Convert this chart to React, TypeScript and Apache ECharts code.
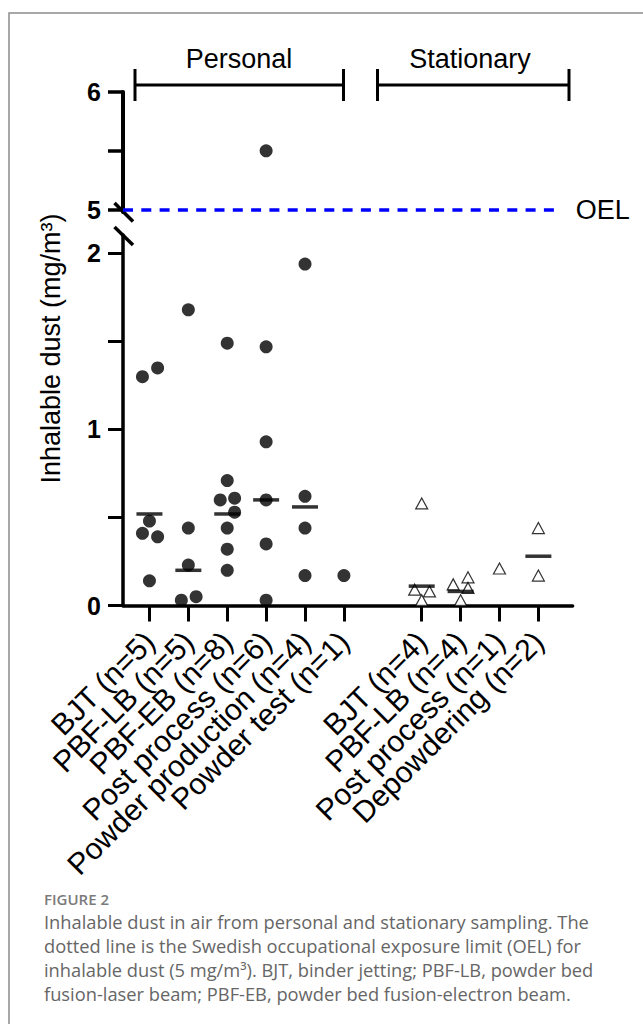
import React, { useEffect, useRef } from "react";
import * as echarts from "echarts";

// ---------- data ----------
const personalCategories = [
  "BJT (n=5)",
  "PBF-LB (n=5)",
  "PBF-EB (n=8)",
  "Post process (n=6)",
  "Powder production (n=4)",
  "Powder test (n=1)",
];
const stationaryCategories = [
  "BJT (n=4)",
  "PBF-LB (n=4)",
  "Post process (n=1)",
  "Depowdering (n=2)",
];
const personalPositions = [1, 2, 3, 4, 5, 6];
const stationaryPositions = [8, 9, 10, 11];

const personalValues = [
  [1.3, 1.35, 0.48, 0.41, 0.39, 0.14],
  [1.68, 0.44, 0.23, 0.03, 0.05],
  [1.49, 0.71, 0.6, 0.61, 0.53, 0.44, 0.32, 0.2],
  [5.5, 1.47, 0.93, 0.6, 0.35, 0.03],
  [1.94, 0.62, 0.44, 0.17],
  [0.17],
];
const personalJitter = [
  [-0.18, 0.21, 0, -0.18, 0.21, 0],
  [0, 0, 0, -0.18, 0.2],
  [0, 0, -0.18, 0.19, 0.19, 0, 0, 0],
  [0, 0, 0, 0, 0, 0],
  [0, 0, 0, 0],
  [0],
];
const personalGeoMeans = [0.52, 0.2, 0.52, 0.6, 0.56, null];

const stationaryValues = [
  [0.58, 0.09, 0.08, 0.03],
  [0.12, 0.16, 0.1, 0.03],
  [0.21],
  [0.44, 0.17],
];
const stationaryJitter = [
  [0, -0.18, 0.2, 0],
  [-0.19, 0.19, 0.19, 0],
  [0],
  [0, 0],
];
const stationaryGeoMeans = [0.11, 0.08, null, 0.28];

const lowerTicks = [0, 0.5, 1, 1.5, 2];
const lowerLabels = [0, 1, 2];
const upperTicks = [5, 5.5, 6];
const upperLabels = [5, 6];
const oelValue = 5;

const captionTitle = "FIGURE 2";
const captionLines = [
  "Inhalable dust in air from personal and stationary sampling. The",
  "dotted line is the Swedish occupational exposure limit (OEL) for",
  "inhalable dust (5 mg/m³). BJT, binder jetting; PBF-LB, powder bed",
  "fusion-laser beam; PBF-EB, powder bed fusion-electron beam.",
];

// axis extents (break)
const X_MIN = 0.32;
const X_MAX = 11.88;
const OEL_END = 11.6;
const LOWER_MAX = 2.105;
const UPPER_MIN = 4.979;
const UPPER_MAX = 6;

const FONT = "'Liberation Sans', Arial, Helvetica, sans-serif";
const CAPTION_FONT = "'Open Sans', 'Noto Sans', sans-serif";

export default function App() {
  const ref = useRef<HTMLDivElement>(null);

  useEffect(() => {
    if (!ref.current) return;
    const chart = echarts.init(ref.current, null, { renderer: "svg" });

    const labelMap = new Map<number, string>();
    personalPositions.forEach((p, i) => labelMap.set(p, personalCategories[i]));
    stationaryPositions.forEach((p, i) => labelMap.set(p, stationaryCategories[i]));
    const tickPositions = [...personalPositions, ...stationaryPositions];
    // blank labels at both axis ends so that the min/max-label logic only ever hides blanks
    const labelPositions = [X_MIN, ...tickPositions, X_MAX];

    const personalPoints: number[][] = [];
    personalValues.forEach((vals, g) =>
      vals.forEach((v, k) => personalPoints.push([personalPositions[g] + personalJitter[g][k], v]))
    );
    const stationaryPoints: number[][] = [];
    stationaryValues.forEach((vals, g) =>
      vals.forEach((v, k) => stationaryPoints.push([stationaryPositions[g] + stationaryJitter[g][k], v]))
    );
    const meanPoints: number[][] = [];
    personalGeoMeans.forEach((m, g) => {
      if (m !== null) meanPoints.push([personalPositions[g], m]);
    });
    stationaryGeoMeans.forEach((m, g) => {
      if (m !== null) meanPoints.push([stationaryPositions[g], m]);
    });

    const lowerPersonal = personalPoints.filter((p) => p[1] <= LOWER_MAX);
    const upperPersonal = personalPoints.filter((p) => p[1] >= UPPER_MIN);

    const yAxisCommon = {
      type: "value" as const,
      splitLine: { show: false },
      axisLine: { show: true, onZero: false, lineStyle: { color: "#000", width: 4 } },
      axisLabel: {
        margin: 22,
        fontSize: 25,
        fontWeight: "bold" as const,
        color: "#000",
        fontFamily: FONT,
      },
    };

    const captionGraphics: any[] = [
      {
        type: "text",
        x: 44,
        y: 899,
        style: {
          text: captionTitle,
          fontSize: 15,
          fontWeight: 600,
          fontFamily: CAPTION_FONT,
          fill: "#7a7a7a",
          textVerticalAlign: "middle",
        },
      },
      ...captionLines.map((t, i) => ({
        type: "text",
        x: 44,
        y: 921.5 + i * 24,
        style: {
          text: t,
          fontSize: 18.3,
          fontFamily: CAPTION_FONT,
          fill: "#666",
          textVerticalAlign: "middle",
        },
      })),
    ];

    const option: any = {
      animation: false,
      backgroundColor: "#fff",
      grid: [
        { left: 123, right: 70.4, top: 92, height: 120 },
        { left: 123, right: 70.4, top: 235, height: 370.5 },
      ],
      xAxis: [
        { gridIndex: 0, type: "value", min: X_MIN, max: X_MAX, show: false },
        {
          gridIndex: 1,
          type: "value",
          min: X_MIN,
          max: X_MAX,
          splitLine: { show: false },
          axisLine: { show: true, onZero: false, lineStyle: { color: "#000", width: 3.5 } },
          axisTick: {
            show: true,
            customValues: tickPositions,
            length: 16,
            lineStyle: { color: "#000", width: 3 },
          },
          axisLabel: {
            show: true,
            customValues: labelPositions,
            showMinLabel: false,
            showMaxLabel: false,
            hideOverlap: false,
            formatter: (v: number) => labelMap.get(v) ?? "",
            rotate: 45,
            align: "right",
            verticalAlign: "middle",
            padding: [10, 0, 0, 0],
            margin: 31,
            fontSize: 30,
            color: "#000",
            fontFamily: FONT,
          },
        },
      ],
      yAxis: [
        {
          ...yAxisCommon,
          gridIndex: 0,
          min: UPPER_MIN,
          max: UPPER_MAX,
          axisTick: { show: true, customValues: upperTicks, length: 15, lineStyle: { color: "#000", width: 3.5 } },
          axisLabel: { ...yAxisCommon.axisLabel, customValues: upperLabels },
        },
        {
          ...yAxisCommon,
          gridIndex: 1,
          min: 0,
          max: LOWER_MAX,
          axisLine: { show: true, onZero: false, lineStyle: { color: "#000", width: 3.5 } },
          axisTick: { show: true, customValues: lowerTicks, length: 15, lineStyle: { color: "#000", width: 3 } },
          axisLabel: { ...yAxisCommon.axisLabel, customValues: lowerLabels },
        },
      ],
      series: [
        {
          name: "Personal (upper)",
          type: "scatter",
          xAxisIndex: 0,
          yAxisIndex: 0,
          symbol: "circle",
          symbolSize: 13,
          itemStyle: { color: "#000" },
          data: upperPersonal,
          markLine: {
            silent: true,
            symbol: ["none", "none"],
            lineStyle: { type: [10, 8.3], width: 3.5, color: "#0000ff" },
            label: {
              show: true,
              position: "end",
              formatter: "OEL",
              fontSize: 27,
              color: "#000",
              fontFamily: FONT,
              distance: 14,
            },
            data: [[{ coord: [X_MIN, oelValue] }, { coord: [OEL_END, oelValue] }]],
          },
        },
        {
          name: "Personal",
          type: "scatter",
          xAxisIndex: 1,
          yAxisIndex: 1,
          symbol: "circle",
          symbolSize: 13,
          itemStyle: { color: "#000" },
          data: lowerPersonal,
        },
        {
          name: "Stationary",
          type: "scatter",
          xAxisIndex: 1,
          yAxisIndex: 1,
          symbol: "triangle",
          symbolSize: [12, 11],
          itemStyle: { color: "#fff", borderColor: "#000", borderWidth: 1.2 },
          data: stationaryPoints,
        },
        {
          name: "Geometric mean",
          type: "scatter",
          xAxisIndex: 1,
          yAxisIndex: 1,
          symbol: "rect",
          symbolSize: [26, 3.5],
          itemStyle: { color: "#000" },
          z: 5,
          data: meanPoints,
        },
      ],
      graphic: [
        {
          type: "rect",
          shape: { x: 9, y: 13, width: 700, height: 1100 },
          style: { fill: "none", stroke: "#8c8c8c", lineWidth: 1.5 },
          silent: true,
        },
        // group brackets
        { type: "line", shape: { x1: 135, y1: 85, x2: 343.5, y2: 85 }, style: { stroke: "#000", lineWidth: 3 } },
        { type: "line", shape: { x1: 135, y1: 69, x2: 135, y2: 101 }, style: { stroke: "#000", lineWidth: 3 } },
        { type: "line", shape: { x1: 343.5, y1: 69, x2: 343.5, y2: 101 }, style: { stroke: "#000", lineWidth: 3 } },
        {
          type: "text",
          x: 239,
          y: 59,
          style: { text: "Personal", fontSize: 27, fontFamily: FONT, fill: "#000", textAlign: "center", textVerticalAlign: "middle" },
        },
        { type: "line", shape: { x1: 377.5, y1: 85, x2: 569, y2: 85 }, style: { stroke: "#000", lineWidth: 3 } },
        { type: "line", shape: { x1: 377.5, y1: 69, x2: 377.5, y2: 101 }, style: { stroke: "#000", lineWidth: 3 } },
        { type: "line", shape: { x1: 569, y1: 69, x2: 569, y2: 101 }, style: { stroke: "#000", lineWidth: 3 } },
        {
          type: "text",
          x: 470,
          y: 59,
          style: { text: "Stationary", fontSize: 27, fontFamily: FONT, fill: "#000", textAlign: "center", textVerticalAlign: "middle" },
        },
        // axis break slashes
        { type: "line", shape: { x1: 114.5, y1: 203, x2: 133, y2: 221.5 }, style: { stroke: "#000", lineWidth: 3.5 } },
        { type: "line", shape: { x1: 114.5, y1: 227, x2: 133, y2: 245 }, style: { stroke: "#000", lineWidth: 3.5 } },
        // y-axis title
        {
          type: "text",
          x: 51,
          y: 348.5,
          rotation: Math.PI / 2,
          style: {
            text: "Inhalable dust (mg/m³)",
            fontSize: 27,
            fontFamily: FONT,
            fill: "#000",
            textAlign: "center",
            textVerticalAlign: "middle",
          },
        },
        ...captionGraphics,
      ],
    };

    chart.setOption(option);
    return () => chart.dispose();
  }, []);

  return (
    <div
      ref={ref}
      style={{ position: "fixed", left: 0, top: 0, width: 643, height: 1024, background: "#fff" }}
    />
  );
}
